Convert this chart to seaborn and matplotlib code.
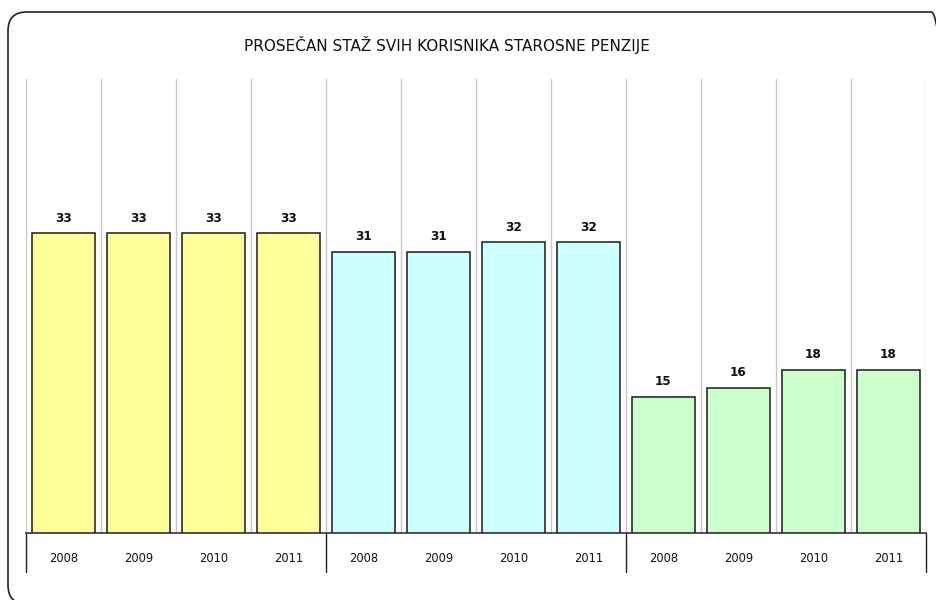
import matplotlib
matplotlib.use("Agg")
import matplotlib.pyplot as plt
from matplotlib.patches import FancyBboxPatch
import seaborn as sns
import pandas as pd
import numpy as np

# Data
title = "PROSEČAN STAŽ SVIH KORISNIKA STAROSNE PENZIJE"
years = ["2008", "2009", "2010", "2011"]
groups = ["A", "B", "C"]
values_a = [33, 33, 33, 33]
values_b = [31, 31, 32, 32]
values_c = [15, 16, 18, 18]
colors = ["#FFFF99", "#CCFFFF", "#CCFFCC"]

vals = values_a + values_b + values_c
grp = [g for g in groups for _ in years]
yr = years * len(groups)
ids = [f"{g}{y}" for g, y in zip(grp, yr)]
df = pd.DataFrame({"id": ids, "value": vals, "group": grp, "year": yr})

sns.set_theme(style="white")
plt.rcParams['font.family'] = ['DejaVu Sans']

fig = plt.figure(figsize=(9.36, 6.0), dpi=100)
W, H = 936, 600
ax = fig.add_axes([26 / W, 1 - 533 / H, 900 / W, (533 - 79) / H])

sns.barplot(data=df, x="id", y="value", hue="group", order=ids,
            palette=dict(zip(groups, colors)), dodge=False, width=0.84,
            saturation=1, edgecolor="#1a1a1a", linewidth=1.1, legend=False,
            ax=ax, zorder=3)

ax.set_xlim(-0.5, len(ids) - 0.5)
ax.set_ylim(0, 50)
ax.set_xlabel("")
ax.set_ylabel("")
ax.set_yticks([])
ax.set_xticks(range(len(ids)))
ax.set_xticklabels(yr, fontsize=8.3, color="#111111")
ax.tick_params(axis="x", length=0, pad=14)

# vertical gridlines at category boundaries
for b in np.arange(-0.5, len(ids), 1.0):
    ax.axvline(b, color="#C8C8C8", lw=1.0, zorder=1)

for s in ["top", "right", "left"]:
    ax.spines[s].set_visible(False)
ax.spines["bottom"].set_color("#333333")
ax.spines["bottom"].set_linewidth(1.2)

# group separator lines below axis
trans = ax.get_xaxis_transform()
drop = 39 / (533 - 79)
for b in [-0.5, 3.5, 7.5, 11.5]:
    ax.plot([b, b], [0, -drop], color="#222222", lw=1.0, transform=trans, clip_on=False)

for c in ax.containers:
    ax.bar_label(c, padding=6, fontsize=8.7, fontweight="bold", color="#111111")

fig.text(447 / W, 1 - 45 / H, title, ha="center", va="center", fontsize=11, color="#111111")

border = FancyBboxPatch((8 / W, 1 - 604 / H), 942 / W, 592 / H,
                        boxstyle="round,pad=0,rounding_size=0.02",
                        transform=fig.transFigure, fill=False,
                        edgecolor="#222222", lw=1.2, mutation_aspect=W / H)
fig.patches.append(border)

fig.savefig("out.png", dpi=100)
